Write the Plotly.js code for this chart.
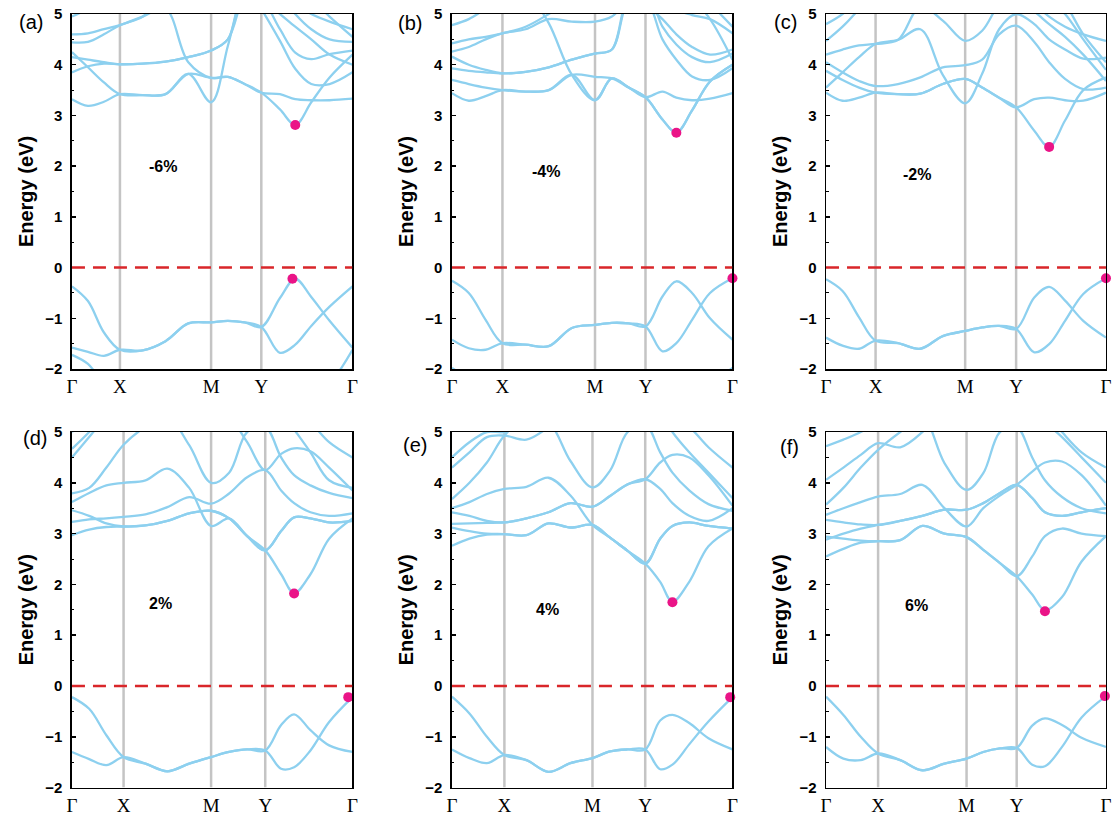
<!DOCTYPE html>
<html><head><meta charset="utf-8">
<script src="https://cdn.plot.ly/plotly-3.0.1.min.js"></script>
<style>html,body{margin:0;padding:0;background:#fff}#chart{width:1114px;height:815px}</style>
</head><body><div id="chart"></div>
<script>
// ---------- data ----------
const kLabels = ['Γ','X','M','Y','Γ'];
const strainLabels = ['-6%','-4%','-2%','2%','4%','6%'];
const panelTags = ['(a)','(b)','(c)','(d)','(e)','(f)'];
// high-symmetry points along the normalised k-path (Γ=0 ... Γ=1)
const kX = [0.171, 0.180, 0.177, 0.184, 0.187, 0.186];
const kM = [0.496, 0.510, 0.497, 0.496, 0.501, 0.502];
const kY = [0.675, 0.690, 0.679, 0.689, 0.689, 0.681];
// band edges
const cbmK = [0.796, 0.800, 0.797, 0.792, 0.786, 0.782];
const cbmE = [2.81, 2.66, 2.38, 1.82, 1.65, 1.47];
const vbmK = [0.786, 1.000, 1.000, 0.985, 0.992, 0.996];
const vbmE = [-0.22, -0.21, -0.21, -0.22, -0.22, -0.20];
// strain label placement (k, E)
const labelK = [0.325, 0.336, 0.325, 0.317, 0.339, 0.324];
const labelE = [2.0, 1.9, 1.84, 1.62, 1.5, 1.59];

// band energies (eV) at 16 k-samples: Γ, ΓX 1/3, 2/3, X, XM 1/4,1/2,3/4, M, MY 1/3,2/3, Y, Y→CBM, CBM, CBM→Γ, CBM→Γ, Γ
const bandsA = [
 [-0.37,-0.66,-1.28,-1.62,-1.63,-1.45,-1.1,-1.08,-1.05,-1.08,-1.17,-0.6,-0.22,-0.58,-1.05,-1.58],
 [-1.58,-1.66,-1.74,-1.62,-1.63,-1.45,-1.1,-1.08,-1.05,-1.08,-1.17,-1.68,-1.52,-1.15,-0.77,-0.37],
 [-1.72,-1.9,-2.3,-2.6,-2.7,-2.7,-2.7,-2.7,-2.7,-2.7,-2.7,-2.7,-2.7,-2.6,-2.3,-1.62],
 [3.32,3.19,3.27,3.42,3.40,3.42,3.82,3.26,4.37,5.6,6.2,5.9,5.6,5.3,4.95,4.55],
 [4.25,3.95,3.65,3.42,3.40,3.42,3.82,3.74,3.76,3.62,3.45,3.12,2.81,3.26,3.75,4.2],
 [3.85,3.97,4.02,4.01,4.02,4.06,4.15,4.28,4.5,5.4,5.3,4.7,4.24,4.11,4.21,4.28],
 [4.15,4.1,4.05,4.01,4.02,4.06,4.15,4.28,4.5,5.4,5.8,5.4,5.0,4.7,4.5,4.45],
 [4.44,4.45,4.6,4.78,4.95,5.4,5.8,6.0,6.0,5.6,5.1,4.47,3.92,3.62,3.62,3.85],
 [4.6,4.62,4.7,4.78,4.95,5.1,4.05,3.74,3.76,3.62,3.45,3.42,3.32,3.3,3.3,3.33],
 [4.95,5.1,5.3,5.5,5.6,5.6,5.6,5.6,5.6,5.6,5.6,5.4,5.2,5.0,4.85,4.7],
 [5.6,5.6,5.6,5.6,5.6,5.6,5.6,5.6,5.6,5.6,5.3,5.0,4.75,4.5,4.2,4.0]
];
const bandsB = [
 [-0.26,-0.5,-1.03,-1.49,-1.52,-1.55,-1.19,-1.13,-1.09,-1.1,-1.16,-0.57,-0.27,-0.5,-1.0,-1.42],
 [-1.42,-1.59,-1.62,-1.49,-1.52,-1.55,-1.19,-1.13,-1.09,-1.1,-1.16,-1.65,-1.49,-1.03,-0.5,-0.21],
 [-1.98,-2.2,-2.5,-2.7,-2.7,-2.7,-2.7,-2.7,-2.7,-2.7,-2.7,-2.7,-2.7,-2.6,-2.3,-1.98],
 [3.44,3.29,3.38,3.5,3.47,3.5,3.8,3.3,3.73,3.55,3.36,2.92,2.66,3.1,3.67,4.0],
 [3.7,3.62,3.55,3.5,3.47,3.5,3.8,3.76,3.73,3.55,3.36,3.47,3.35,3.3,3.33,3.44],
 [5.5,5.6,5.8,6.0,5.5,4.82,3.8,3.3,3.73,3.55,3.36,2.92,2.66,3.1,3.67,4.0],
 [4.16,4.0,3.9,3.83,3.86,3.95,4.1,4.22,4.3,5.3,5.5,4.75,4.4,4.15,4.05,4.22],
 [3.93,3.88,3.85,3.83,3.86,3.95,4.1,4.22,4.3,5.3,5.3,4.5,4.1,3.77,3.7,3.93],
 [4.42,4.5,4.55,4.62,4.75,5.0,5.3,5.5,5.6,5.6,5.5,5.5,5.1,4.98,4.9,4.62],
 [4.26,4.35,4.5,4.62,4.7,4.9,4.85,4.85,4.95,5.3,5.6,5.6,5.5,5.3,4.9,4.1],
 [4.78,4.9,5.1,5.3,5.4,5.5,5.6,5.6,5.6,5.6,5.6,5.6,5.6,5.5,5.2,4.75],
 [5.6,5.6,5.6,5.6,5.6,5.6,5.6,5.6,5.6,5.6,5.2,4.9,4.6,4.35,4.2,4.3]
];
const bandsC = [
 [-0.23,-0.46,-0.98,-1.44,-1.49,-1.6,-1.35,-1.25,-1.18,-1.15,-1.21,-0.59,-0.38,-0.65,-1.05,-1.38],
 [-1.38,-1.54,-1.6,-1.44,-1.49,-1.6,-1.35,-1.25,-1.18,-1.15,-1.21,-1.67,-1.51,-1.05,-0.52,-0.21],
 [3.45,3.29,3.35,3.45,3.42,3.43,3.62,3.72,3.55,3.35,3.16,2.7,2.38,2.9,3.5,3.75],
 [3.88,3.7,3.55,3.45,3.42,3.43,3.62,3.72,3.55,3.35,3.16,3.32,3.35,3.3,3.29,3.45],
 [4.05,3.85,3.68,3.58,3.62,3.75,3.95,3.99,4.1,4.6,4.77,4.45,4.05,3.72,3.52,3.55],
 [3.55,3.85,4.15,4.41,4.49,4.7,3.8,3.24,3.82,4.7,5.0,4.8,4.5,4.3,4.12,4.14],
 [4.2,4.3,4.38,4.41,4.49,5.15,4.87,4.47,4.67,5.2,5.5,5.2,4.95,4.75,4.6,4.47],
 [4.47,4.75,5.1,5.5,5.6,5.6,5.6,5.6,5.6,5.6,5.6,5.5,5.3,5.0,4.5,3.9],
 [4.8,5.0,5.3,5.5,5.6,5.6,5.6,5.6,5.6,5.6,5.6,5.6,5.5,5.2,4.6,4.05],
 [5.6,5.6,5.6,5.6,5.6,5.6,5.6,5.6,5.6,5.6,5.3,5.05,4.8,4.55,4.2,3.68]
];
const bandsD = [
 [-0.22,-0.45,-0.97,-1.4,-1.53,-1.68,-1.53,-1.4,-1.3,-1.25,-1.27,-0.77,-0.56,-0.87,-1.17,-1.3],
 [-1.3,-1.44,-1.56,-1.4,-1.53,-1.68,-1.53,-1.4,-1.3,-1.25,-1.27,-1.63,-1.6,-1.27,-0.71,-0.22],
 [3.46,3.35,3.2,3.14,3.16,3.25,3.4,3.45,3.3,2.95,2.67,2.2,1.83,2.2,2.9,3.3],
 [2.97,3.08,3.13,3.14,3.16,3.25,3.4,3.45,3.3,2.95,2.67,3.05,3.32,3.3,3.22,3.25],
 [3.23,3.28,3.3,3.33,3.38,3.52,3.72,3.59,3.79,4.11,4.25,3.85,3.6,3.42,3.35,3.4],
 [3.62,3.8,3.95,4.0,4.05,4.28,3.9,3.15,3.3,2.95,2.67,3.05,3.32,3.3,3.22,3.25],
 [3.79,3.9,4.3,4.75,5.1,5.3,4.74,4.0,4.2,5.0,5.1,4.5,4.15,3.95,3.8,3.7],
 [4.5,4.9,5.3,5.5,5.6,5.6,5.6,5.5,5.3,4.8,4.25,4.57,4.68,4.62,4.3,3.85],
 [4.67,5.0,5.4,5.6,5.6,5.6,5.6,5.6,5.6,5.6,5.6,5.4,5.05,4.6,4.05,3.9],
 [5.0,5.3,5.5,5.6,5.6,5.6,5.6,5.6,5.6,5.6,5.6,5.6,5.5,5.2,4.8,4.5]
];
const bandsE = [
 [-0.21,-0.54,-1.0,-1.36,-1.46,-1.69,-1.52,-1.42,-1.29,-1.25,-1.25,-0.68,-0.57,-0.73,-1.03,-1.25],
 [-1.25,-1.42,-1.52,-1.36,-1.46,-1.69,-1.52,-1.42,-1.29,-1.25,-1.25,-1.64,-1.55,-1.15,-0.7,-0.22],
 [3.12,3.05,3.0,2.99,2.97,3.2,3.12,3.17,2.92,2.66,2.41,2.05,1.66,2.05,2.75,3.1],
 [2.76,2.9,2.98,2.99,2.97,3.2,3.12,3.17,2.92,2.66,2.41,2.9,3.15,3.22,3.15,3.1],
 [3.19,3.2,3.21,3.22,3.3,3.42,3.6,3.53,3.74,3.97,4.07,3.88,3.6,3.35,3.25,3.5],
 [3.5,3.62,3.78,3.88,3.92,4.1,3.75,3.17,2.92,2.66,2.41,2.9,3.15,3.22,3.15,3.1],
 [3.68,4.0,4.4,4.93,5.3,5.2,4.43,3.91,4.24,5.0,5.15,4.6,4.2,3.85,3.58,3.45],
 [4.3,4.6,4.9,4.93,4.85,5.1,5.5,5.5,5.6,5.6,5.6,5.5,5.3,5.1,4.7,4.3],
 [4.5,4.8,5.0,5.0,5.2,5.5,5.6,5.6,5.6,5.6,5.6,5.4,5.0,4.6,4.2,3.7],
 [3.42,3.35,3.25,3.22,3.3,3.42,3.6,3.53,3.74,3.97,4.07,4.4,4.55,4.5,4.15,3.55]
];
const bandsF = [
 [-0.21,-0.57,-1.0,-1.33,-1.46,-1.66,-1.53,-1.43,-1.3,-1.23,-1.22,-0.78,-0.64,-0.77,-1.02,-1.2],
 [-1.2,-1.43,-1.46,-1.33,-1.46,-1.66,-1.53,-1.43,-1.3,-1.23,-1.22,-1.55,-1.58,-1.2,-0.62,-0.2],
 [2.94,2.9,2.86,2.85,2.87,3.15,3.0,2.93,2.68,2.42,2.16,1.8,1.49,1.75,2.45,2.95],
 [2.55,2.7,2.82,2.85,2.87,3.15,3.0,2.93,2.68,2.42,2.16,2.55,2.95,3.1,3.0,2.95],
 [3.27,3.22,3.18,3.17,3.25,3.35,3.47,3.47,3.6,3.8,3.96,3.7,3.42,3.35,3.42,3.5],
 [3.37,3.5,3.62,3.73,3.78,3.96,3.5,3.14,3.5,3.75,3.96,4.22,4.4,4.42,4.15,3.55],
 [3.57,3.9,4.3,4.65,5.0,5.3,4.39,3.86,4.19,5.0,5.1,4.5,4.05,3.72,3.5,3.4],
 [4.06,4.3,4.55,4.78,4.7,5.0,5.5,5.5,5.6,5.6,5.6,5.5,5.2,4.9,4.5,4.0],
 [4.72,4.85,5.0,5.2,5.4,5.6,5.6,5.6,5.6,5.6,5.6,5.6,5.4,5.0,4.6,4.3],
 [2.88,3.0,3.1,3.17,3.25,3.35,3.47,3.47,3.6,3.8,3.96,3.7,3.42,3.35,3.42,3.5]
];
const allBands = [bandsA, bandsB, bandsC, bandsD, bandsE, bandsF];

// ---------- layout helpers ----------
const colDomains = [[0.0646,0.3164],[0.4057,0.6575],[0.7415,0.9928]];
const rowDomains = [[0.5472,0.9828],[0.0337,0.4699]];
const tagPos = [[0.0278,0.973],[0.368,0.9718],[0.7047,0.973],[0.0314,0.4626],[0.3725,0.454],[0.709,0.4515]];

const bandColor = '#8dd0ef';
const traces = [];
const shapes = [];
const annotations = [];
const layout = {
  width:1114, height:815,
  margin:{l:0,r:0,t:0,b:0},
  paper_bgcolor:'#ffffff', plot_bgcolor:'#ffffff',
  showlegend:false,
  font:{family:'Arial, Liberation Sans, sans-serif', color:'#000'}
};

function kGrid(p){
  const x=kX[p], m=kM[p], y=kY[p], c=cbmK[p];
  return [0, x/3, 2*x/3, x, x+(m-x)*0.25, x+(m-x)*0.5, x+(m-x)*0.75, m,
          m+(y-m)/3, m+2*(y-m)/3, y, y+0.55*(c-y), c, c+0.28*(1-c), c+0.6*(1-c), 1];
}

for(let p=0;p<6;p++){
  const sfx = p===0 ? '' : String(p+1);
  const xa = 'x'+sfx, ya = 'y'+sfx;
  const row = p<3 ? 0 : 1, col = p%3;
  const kg = kGrid(p);
  allBands[p].forEach(b=>{
    traces.push({type:'scatter', mode:'lines', x:kg, y:b, xaxis:xa, yaxis:ya,
      line:{color:bandColor, width:2.3, shape:'spline', smoothing:1}, hoverinfo:'skip'});
  });
  traces.push({type:'scatter', mode:'markers', x:[cbmK[p], vbmK[p]], y:[cbmE[p], vbmE[p]],
    xaxis:xa, yaxis:ya, cliponaxis:false, hoverinfo:'skip',
    marker:{color:'#ea1487', size:10, line:{width:0}}});

  layout['xaxis'+sfx] = {
    domain:colDomains[col], anchor:ya, range:[0,1], fixedrange:true,
    tickmode:'array', tickvals:[0,kX[p],kM[p],kY[p],1], ticktext:kLabels,
    ticks:'', showgrid:false, zeroline:false,
    showline:true, mirror:true, linecolor:'#000', linewidth:1.5,
    tickfont:{family:'Liberation Serif, Times New Roman, serif', size:19, color:'#000'}
  };
  layout['yaxis'+sfx] = {
    domain:rowDomains[row], anchor:xa, range:[-2,5], fixedrange:true,
    tickmode:'linear', tick0:-2, dtick:1, ticks:'inside', ticklen:4, tickwidth:1.5, tickcolor:'#000',
    minor:{ticks:'inside', ticklen:2.5, dtick:0.5, tickcolor:'#000', tickwidth:1},
    showgrid:false, zeroline:false, ticklabelstandoff:5,
    showline:true, mirror:true, linecolor:'#000', linewidth:1.5,
    tickfont:{family:'Arial, Liberation Sans, sans-serif', size:15, weight:'bold', color:'#000'},
    title:{text:'Energy (eV)', standoff:6,
      font:{family:'Arial, Liberation Sans, sans-serif', size:20, weight:'bold', color:'#000'}}
  };

  // high-symmetry vertical lines
  [kX[p], kM[p], kY[p]].forEach(k=>{
    shapes.push({type:'line', xref:xa, yref:ya, x0:k, x1:k, y0:-2, y1:5, layer:'below',
      line:{color:'#c4c4c4', width:2.5}});
  });
  // Fermi level
  shapes.push({type:'line', xref:xa, yref:ya, x0:0, x1:1, y0:0, y1:0, layer:'above',
    line:{color:'#d9262a', width:2.5, dash:'13px,8px'}});

  annotations.push({xref:xa, yref:ya, x:labelK[p], y:labelE[p], text:strainLabels[p], showarrow:false,
    font:{family:'Arial, Liberation Sans, sans-serif', size:16, weight:'bold', color:'#000'}});
  annotations.push({xref:'paper', yref:'paper', x:tagPos[p][0], y:tagPos[p][1], text:panelTags[p],
    showarrow:false, xanchor:'center', yanchor:'middle',
    font:{family:'Arial, Liberation Sans, sans-serif', size:20, color:'#000'}});
}
layout.shapes = shapes;
layout.annotations = annotations;

Plotly.newPlot('chart', traces, layout, {displayModeBar:false, staticPlot:true});
</script>
</body></html>
